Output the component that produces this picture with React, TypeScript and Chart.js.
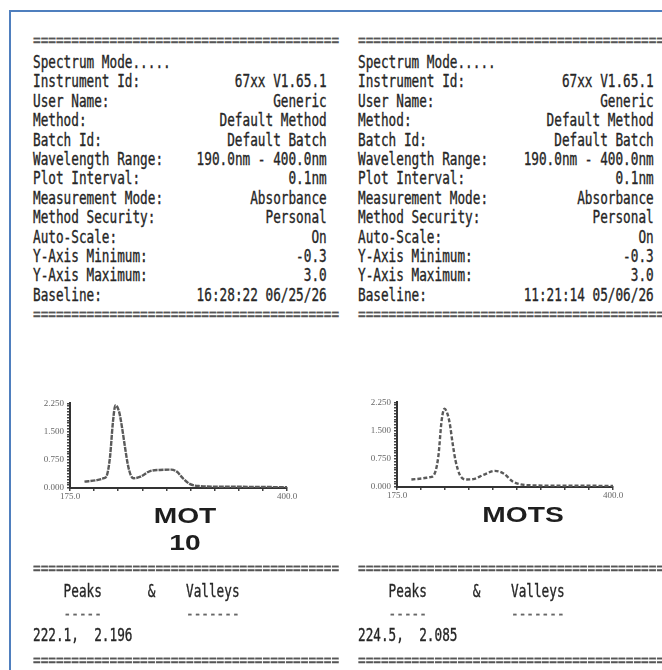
import React, { useEffect, useRef } from "react";
import { Chart, registerables } from "chart.js";

Chart.register(...registerables);

// ---------- data ----------
const FIELD_LABELS = [
  "Instrument Id:",
  "User Name:",
  "Method:",
  "Batch Id:",
  "Wavelength Range:",
  "Plot Interval:",
  "Measurement Mode:",
  "Method Security:",
  "Auto-Scale:",
  "Y-Axis Minimum:",
  "Y-Axis Maximum:",
  "Baseline:",
];
const LEFT_VALUES = [
  "67xx V1.65.1",
  "Generic",
  "Default Method",
  "Default Batch",
  "190.0nm - 400.0nm",
  "0.1nm",
  "Absorbance",
  "Personal",
  "On",
  "-0.3",
  "3.0",
  "16:28:22 06/25/26",
];
const RIGHT_VALUES = [
  "67xx V1.65.1",
  "Generic",
  "Default Method",
  "Default Batch",
  "190.0nm - 400.0nm",
  "0.1nm",
  "Absorbance",
  "Personal",
  "On",
  "-0.3",
  "3.0",
  "11:21:14 05/06/26",
];

const MOT10_WAVELENGTH = [190, 203, 210, 213, 216.5, 219.5, 222.1, 226, 229, 232, 235, 238, 241, 248, 258, 268, 280, 286, 292, 299, 310, 330, 364, 400];
const MOT10_ABS = [0.17, 0.21, 0.26, 0.32, 0.83, 1.75, 2.196, 2.02, 1.6, 1.09, 0.62, 0.34, 0.26, 0.3, 0.45, 0.48, 0.49, 0.43, 0.26, 0.11, 0.05, 0.035, 0.03, 0.02];

const MOTS_WAVELENGTH = [190, 202, 209, 213, 218, 221.5, 224.5, 227.5, 230, 233, 236, 240.5, 247.5, 254.5, 265, 277, 286, 296, 310, 341, 400];
const MOTS_ABS = [0.2, 0.23, 0.26, 0.3, 0.8, 1.77, 2.085, 1.95, 1.68, 1.15, 0.7, 0.32, 0.2, 0.21, 0.32, 0.43, 0.36, 0.14, 0.05, 0.035, 0.03];

const Y_TICK_VALUES = [0, 0.75, 1.5, 2.25];
const Y_TICK_LABELS = ["0.000", "0.750", "1.500", "2.250"];
const X_TICK_VALUES = [175, 400];
const X_TICK_LABELS = ["175.0", "400.0"];

const LEFT_PEAK = "222.1,  2.196";
const RIGHT_PEAK = "224.5,  2.085";

// ---------- layout helpers ----------
const CH = 7.65;
const FS = 17;
const SX = CH / (FS * 0.602);
const TEXT = "#262626";

function Mono(props: { x: number; y: number; w: number; children: any; color?: string }) {
  return (
    <div
      style={{
        position: "absolute",
        left: props.x,
        top: props.y - 11,
        height: 22,
        lineHeight: "22px",
        width: props.w / SX,
        transform: `scaleX(${SX})`,
        transformOrigin: "0 0",
        fontFamily: '"DejaVu Sans Mono", monospace',
        fontSize: FS,
        whiteSpace: "pre",
        display: "flex",
        justifyContent: "space-between",
        color: props.color || TEXT,
        WebkitTextStroke: "0.35px " + (props.color || TEXT),
      }}
    >
      {props.children}
    </div>
  );
}

function Rule({ x, y, n }: { x: number; y: number; n: number }) {
  return (
    <Mono x={x} y={y} w={n * CH} color="#555">
      <span>{"=".repeat(n)}</span>
    </Mono>
  );
}

function InfoBlock({ x, values, w }: { x: number; values: string[]; w: number }) {
  const y0 = 62;
  const dy = 19.4;
  return (
    <>
      <Rule x={x} y={40} n={40} />
      <Mono x={x} y={y0} w={w}>
        <span>Spectrum Mode.....</span>
      </Mono>
      {FIELD_LABELS.map((lab, i) => (
        <Mono key={lab} x={x} y={y0 + dy * (i + 1)} w={w}>
          <span>{lab}</span>
          <span>{values[i]}</span>
        </Mono>
      ))}
      <Rule x={x} y={314} n={40} />
    </>
  );
}

function PeakBlock({ x, peak }: { x: number; peak: string }) {
  return (
    <>
      <Rule x={x} y={568} n={40} />
      <Mono x={x} y={591} w={38 * CH}>
        <span>{"    Peaks      &    Valleys"}</span>
      </Mono>
      <Mono x={x} y={613} w={38 * CH} color="#666">
        <span>{"    -----           -------"}</span>
      </Mono>
      <Mono x={x} y={635} w={38 * CH}>
        <span>{peak}</span>
      </Mono>
      <Rule x={x} y={660} n={40} />
    </>
  );
}

function Spectrum(props: { left: number; top: number; width: number; wl: number[]; abs: number[]; dash: number[] }) {
  const ref = useRef<HTMLCanvasElement>(null);
  useEffect(() => {
    const tickFont = { family: '"Liberation Serif", serif', size: 9 };
    const chart = new Chart(ref.current as HTMLCanvasElement, {
      type: "line",
      data: {
        datasets: [
          {
            data: props.wl.map((x, i) => ({ x, y: props.abs[i] })),
            borderColor: "#5a5a5a",
            borderWidth: 2.4,
            borderDash: props.dash,
            pointRadius: 0,
            cubicInterpolationMode: "monotone",
            fill: false,
          },
        ],
      },
      options: {
        responsive: false,
        maintainAspectRatio: false,
        animation: false,
        events: [],
        layout: { padding: { top: 8, right: 13, left: 0, bottom: 0 } },
        plugins: { legend: { display: false }, tooltip: { enabled: false } },
        scales: {
          x: {
            type: "linear",
            min: 175,
            max: 400,
            afterFit: (s: any) => {
              s.height = 17;
            },
            ticks: {
              stepSize: 25,
              autoSkip: false,
              maxRotation: 0,
              padding: 0,
              color: "#666",
              font: tickFont,
              callback: (v: any) => {
                const k = X_TICK_VALUES.findIndex((t) => Math.abs(t - v) < 1e-6);
                return k >= 0 ? X_TICK_LABELS[k] : "";
              },
            },
            grid: { drawOnChartArea: false, color: "#444", tickLength: 3, lineWidth: 1.5 },
            border: { color: "#333", width: 2 },
          },
          y: {
            min: 0,
            max: 2.25,
            afterFit: (s: any) => {
              s.width = 45;
            },
            ticks: {
              stepSize: 0.075,
              autoSkip: false,
              padding: 3,
              color: "#666",
              font: tickFont,
              callback: (v: any) => {
                const k = Y_TICK_VALUES.findIndex((t) => Math.abs(t - v) < 1e-6);
                return k >= 0 ? Y_TICK_LABELS[k] : "";
              },
            },
            grid: { drawOnChartArea: false, color: "#444", tickLength: 3, lineWidth: 1.5 },
            border: { color: "#333", width: 2 },
          },
        },
      },
    } as any);
    return () => chart.destroy();
  }, []);
  return (
    <canvas
      ref={ref}
      width={props.width}
      height={110}
      style={{ position: "absolute", left: props.left, top: props.top, width: props.width, height: 110 }}
    />
  );
}

function BigLabel({ cx, y, text }: { cx: number; y: number; text: string }) {
  return (
    <div
      style={{
        position: "absolute",
        left: cx - 100,
        top: y - 15,
        width: 200,
        height: 30,
        lineHeight: "30px",
        textAlign: "center",
        fontFamily: '"Liberation Sans", Arial, sans-serif',
        fontWeight: 700,
        fontSize: 22,
        color: "#1e1e1e",
        transform: "scaleX(1.28)",
        transformOrigin: "50% 50%",
      }}
    >
      {text}
    </div>
  );
}

export default function App() {
  return (
    <div
      style={{
        position: "absolute",
        left: 0,
        top: 0,
        width: 662,
        height: 670,
        overflow: "hidden",
        background: "#ffffff",
      }}
    >
      <div
        style={{
          position: "absolute",
          left: 9,
          top: 10,
          width: 700,
          height: 700,
          borderLeft: "2px solid #4f7fbe",
          borderTop: "2px solid #4f7fbe",
        }}
      />
      <InfoBlock x={33} values={LEFT_VALUES} w={38 * CH + 3} />
      <InfoBlock x={358} values={RIGHT_VALUES} w={38 * CH + 5} />

      <Spectrum left={25} top={395} width={275} wl={MOT10_WAVELENGTH} abs={MOT10_ABS} dash={[5, 1]} />
      <Spectrum left={352} top={394} width={274} wl={MOTS_WAVELENGTH} abs={MOTS_ABS} dash={[4, 2]} />

      <BigLabel cx={185} y={516} text="MOT" />
      <BigLabel cx={185} y={543} text="10" />
      <BigLabel cx={523} y={515} text="MOTS" />

      <PeakBlock x={33} peak={LEFT_PEAK} />
      <PeakBlock x={358} peak={RIGHT_PEAK} />
    </div>
  );
}
